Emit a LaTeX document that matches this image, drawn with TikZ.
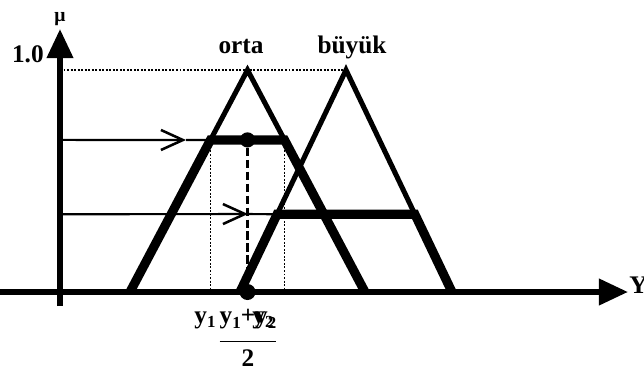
\documentclass[tikz,border=0pt]{standalone}
\usepackage{amsmath}
\usepackage{fontspec}
\setmainfont{Liberation Serif}
\usepackage{tikz}
\usetikzlibrary{calc, arrows.meta, positioning}
\newcommand{\ysub}[1]{y\raisebox{-3.5pt}{\fontsize{12}{12}\selectfont #1}}
\tikzset{
  mfline/.style={line width=3.6pt},
  cutline/.style={line width=6.5pt},
  axisline/.style={line width=4pt, -{Triangle[length=7.3mm,width=6.4mm]}},
  levelarrow/.style={line width=1.5pt, -{Straight Barb[length=5.5mm,width=5mm,line width=1.8pt]}},
  levelline/.style={line width=1.5pt},
  guide/.style={line width=1.1pt, dash pattern=on 1.4pt off 1.1pt},
  midline/.style={line width=2pt, dash pattern=on 6pt off 2.5pt},
  dotnode/.style={circle, fill, inner sep=0pt, minimum size=#1},
  lbl/.style={font=\bfseries\fontsize{18}{20}\selectfont, inner sep=0pt},
  sublbl/.style={font=\bfseries\boldmath\fontsize{18}{20}\selectfont, inner sep=0pt}
}

\begin{document}
\begin{tikzpicture}[x=0.025cm, y=-0.025cm]
  \useasboundingbox (0,0) rectangle (644,370);
  % axes
  \coordinate (O) at (60,292);
  \coordinate (yB) at (60,306);
  \coordinate (yT) at (60,29);
  \coordinate (xB) at (0,292);
  \coordinate (xT) at (628,292);
  \draw[axisline] (yB) -- (yT);
  \draw[axisline] (xB) -- (xT);
  \node[lbl, font=\bfseries\fontsize{14}{16}\selectfont, anchor=base] (mu) at (60,21) {μ};
  \node[lbl, anchor=base east] (one) at (44,62) {1.0};
  \node[lbl, anchor=base west] (Y) at (629,293) {Y};

  % orta and buyuk
  \coordinate (oL) at (130,292);
  \coordinate (oT) at (247.5,70);
  \coordinate (oR) at (365,292);
  \coordinate (bL) at (240,292);
  \coordinate (bT) at (346,70);
  \coordinate (bR) at (452,292);
  \coordinate (o1) at ($(oL)!0.685!(oT)$);
  \coordinate (o2) at ($(oR)!0.685!(oT)$);
  \coordinate (b1) at ($(bL)!0.35!(bT)$);
  \coordinate (b2) at ($(bR)!0.35!(bT)$);
  \node[lbl, anchor=base] (orta) at (241,53) {orta};
  \node[lbl, anchor=base] (buyuk) at (352,53) {büyük};

  \draw[guide] (O |- bT) -- (bT);
  \draw[guide] (o1) -- (o1 |- O);
  \draw[guide] (o2) -- (o2 |- O);
  \draw[mfline] (oL) -- (oT) -- (oR);
  \draw[mfline] (bL) -- (bT) -- (bR);
  \draw[cutline] (oL) -- (o1) -- (o2) -- (oR);
  \draw[cutline] (bL) -- (b1) -- (b2) -- (bR);

  % input levels
  \coordinate (h1) at (186,140);
  \coordinate (h2) at (248,214);
  \draw[levelarrow] (O |- o1) -- (h1);
  \draw[levelline] (h1) -- (o1);
  \draw[levelarrow] (O |- b1) -- (h2);
  \draw[levelline] (h2) -- (b1);

  % centre value
  \node[dotnode=3.8mm] (top) at ($(o1)!0.5!(o2)$) {};
  \node[dotnode=4mm] (bot) at (top |- O) {};
  \draw[midline] (top) -- (bot);

  \node[sublbl, anchor=base] (y1) at (205,323) {\ysub{1}};
  \node[sublbl, anchor=base] (y2) at (263,323) {\ysub{2}};
  \node[sublbl, anchor=base] (mean) at (248,348)
    {$\dfrac{\mbox{\ysub{1}+\ysub{2}}\rule[-10.5pt]{0pt}{0pt}}{\mbox{2}}$};
\end{tikzpicture}
\end{document}
